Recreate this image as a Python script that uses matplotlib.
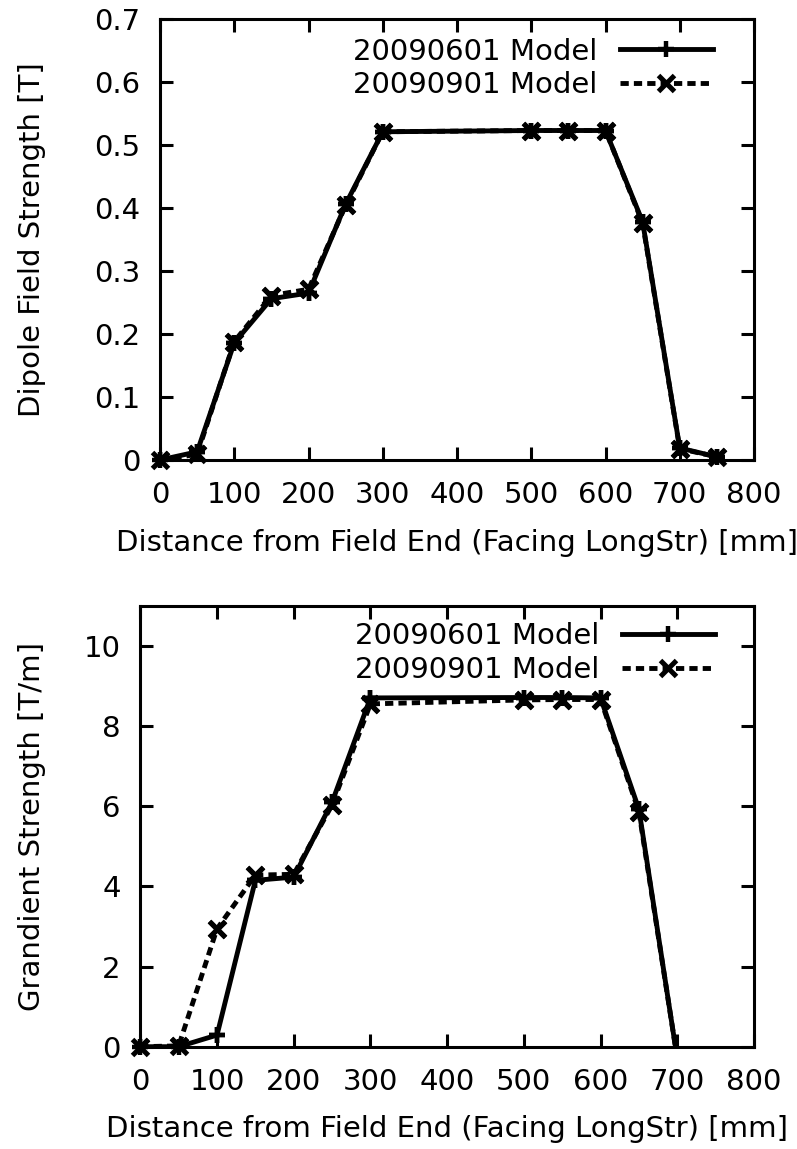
import matplotlib
matplotlib.use("Agg")
from matplotlib import pyplot as plt

# distance from field end [mm]
dist = [0, 50, 100, 150, 200, 250, 300, 500, 550, 600, 650, 700, 750]

# dipole field strength [T]
dipole_0601 = [0.0, 0.013, 0.186, 0.256, 0.265, 0.406, 0.521, 0.523, 0.523, 0.523, 0.378, 0.019, 0.005]
dipole_0901 = [0.0, 0.009, 0.188, 0.261, 0.271, 0.404, 0.521, 0.523, 0.523, 0.523, 0.376, 0.018, 0.005]

# gradient strength [T/m]
grad_dist = [0, 50, 100, 150, 200, 250, 300, 500, 550, 600, 650, 700]
grad_0601 = [0.0, 0.0, 0.29, 4.15, 4.23, 6.10, 8.70, 8.71, 8.71, 8.70, 5.92, -0.3]
grad_0901 = [0.0, 0.02, 2.94, 4.28, 4.30, 6.03, 8.55, 8.65, 8.66, 8.66, 5.86, -0.3]

labels = ["20090601 Model", "20090901 Model"]
xticks = [0, 100, 200, 300, 400, 500, 600, 700, 800]

plt.rcParams["font.family"] = ["DejaVu Sans"]
plt.rcParams["font.size"] = 21


def style_axes(ax):
    for s in ax.spines.values():
        s.set_linewidth(2.2)
    ax.tick_params(direction="in", top=True, right=True, length=9.5, width=2.2)
    ax.tick_params(axis="x", pad=15)
    ax.tick_params(axis="y", pad=14)
    ax.set_xlim(0, 800)
    ax.set_xticks(xticks)


def draw(ax, x, y1, y2, ymin):
    styles = [dict(marker="+", ms=12, mew=3.2, ls="-"),
              dict(marker="x", ms=11, mew=3.6, ls=(0, (1.7, 1.05)))]
    for y, st, lab in zip([y1, y2], styles, labels):
        ax.plot(x, y, color="black", lw=3.5, label=lab, **st)
        # gnuplot draws the points on the border unclipped
        px = [a for a, b in zip(x, y) if b >= ymin]
        py = [b for b in y if b >= ymin]
        ax.plot(px, py, color="black", ls="none", marker=st["marker"],
                ms=st["ms"], mew=st["mew"], clip_on=False, zorder=3)


def add_legend(ax, anchor):
    ax.legend(loc="upper right", bbox_to_anchor=anchor, frameon=False,
              markerfirst=False, handlelength=3.2, handletextpad=0.75,
              borderpad=0, borderaxespad=0, labelspacing=0.2, numpoints=1)


fig = plt.figure(figsize=(7.97, 11.49), dpi=100)

ax1 = fig.add_axes([160 / 797, 1 - 460 / 1149, 594 / 797, 441 / 1149])
draw(ax1, dist, dipole_0601, dipole_0901, 0)
style_axes(ax1)
ax1.set_ylim(0, 0.7)
ax1.set_yticks([0, 0.1, 0.2, 0.3, 0.4, 0.5, 0.6, 0.7])
ax1.set_yticklabels(["0", "0.1", "0.2", "0.3", "0.4", "0.5", "0.6", "0.7"])
ax1.set_xlabel("Distance from Field End (Facing LongStr) [mm]")
ax1.set_ylabel("Dipole Field Strength [T]")
ax1.xaxis.set_label_coords(0.5, -0.156)
ax1.yaxis.set_label_coords(-0.192, 0.5)
add_legend(ax1, (0.931, 0.958))

ax2 = fig.add_axes([140.3 / 797, 1 - 1046.7 / 1149, 613.7 / 797, 441 / 1149])
draw(ax2, grad_dist, grad_0601, grad_0901, 0)
style_axes(ax2)
ax2.set_ylim(0, 11)
ax2.set_yticks([0, 2, 4, 6, 8, 10])
ax2.set_xlabel("Distance from Field End (Facing LongStr) [mm]")
ax2.set_ylabel("Grandient Strength [T/m]")
ax2.xaxis.set_label_coords(0.5, -0.155)
ax2.yaxis.set_label_coords(-0.1537, 0.5)
add_legend(ax2, (0.9365, 0.962))

fig.savefig("out.png", dpi=100)
